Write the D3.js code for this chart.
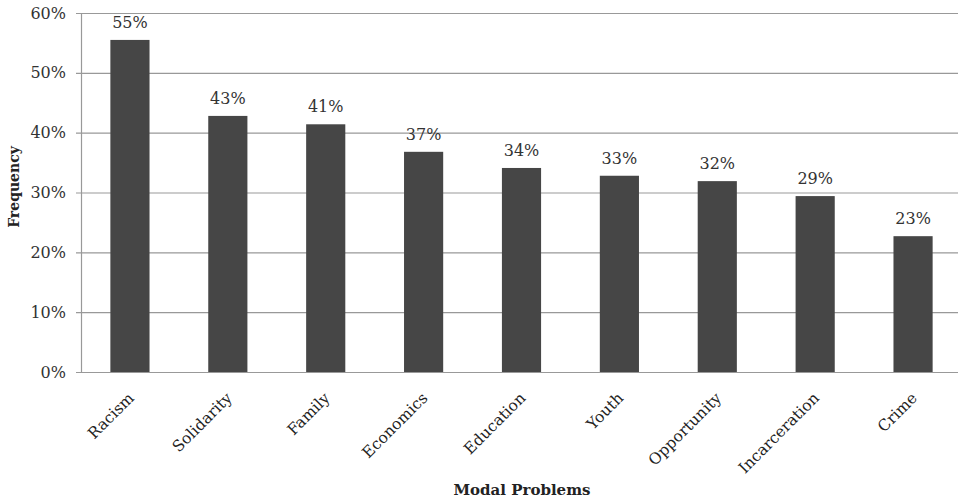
<!DOCTYPE html>
<meta charset="utf-8">
<style>
body { margin: 0; background: #fff; }
svg { font-family: "DejaVu Serif", "Liberation Serif", serif; }
</style>
<svg width="958" height="502"></svg>
<script src="https://cdn.jsdelivr.net/npm/d3@7"></script>
<script>

var categories = ["Racism", "Solidarity", "Family", "Economics", "Education", "Youth", "Opportunity", "Incarceration", "Crime"];
var values = [55.5, 42.8, 41.4, 36.8, 34.1, 32.8, 31.9, 29.4, 22.7];
var labels = ["55%", "43%", "41%", "37%", "34%", "33%", "32%", "29%", "23%"];
var yTicks = [0, 10, 20, 30, 40, 50, 60];

var svg = d3.select("svg"),
    margin = {top: 13, right: 0, bottom: 130, left: 81},
    width = +svg.attr("width") - margin.left - margin.right,
    height = +svg.attr("height") - margin.top - margin.bottom;

var g = svg.append("g").attr("transform", "translate(" + margin.left + "," + margin.top + ")");

var x = d3.scaleBand().domain(categories).range([0, width + 4]).paddingInner(0.6).paddingOuter(0.3);
var y = d3.scaleLinear().domain([0, 60]).range([height, 0]);

// gridlines
g.selectAll("line.grid")
  .data(yTicks)
  .enter().append("line")
    .attr("class", "grid")
    .attr("x1", -5)
    .attr("x2", width)
    .attr("y1", function(d) { return y(d) + 0.5; })
    .attr("y2", function(d) { return y(d) + 0.5; })
    .attr("stroke", "#999")
    .attr("stroke-width", 1.2);

g.append("line")
    .attr("x1", 0.5).attr("x2", 0.5)
    .attr("y1", 0).attr("y2", height)
    .attr("stroke", "#999")
    .attr("stroke-width", 1.2);

g.selectAll("text.ytick")
  .data(yTicks)
  .enter().append("text")
    .attr("class", "ytick")
    .attr("x", -15)
    .attr("y", function(d) { return y(d); })
    .attr("dy", "0.35em")
    .attr("text-anchor", "end")
    .attr("font-size", 16)
    .attr("fill", "#333")
    .text(function(d) { return d + "%"; });

g.selectAll("rect.bar")
  .data(values)
  .enter().append("rect")
    .attr("class", "bar")
    .attr("x", function(d, i) { return x(categories[i]); })
    .attr("width", x.bandwidth())
    .attr("y", function(d) { return y(d); })
    .attr("height", function(d) { return height - y(d); })
    .attr("fill", "#464646");

g.selectAll("text.val")
  .data(values)
  .enter().append("text")
    .attr("class", "val")
    .attr("x", function(d, i) { return x(categories[i]) + x.bandwidth() / 2; })
    .attr("y", function(d) { return y(d) - 12; })
    .attr("text-anchor", "middle")
    .attr("font-size", 16)
    .attr("fill", "#333")
    .text(function(d, i) { return labels[i]; });

g.selectAll("text.cat")
  .data(categories)
  .enter().append("text")
    .attr("class", "cat")
    .attr("text-anchor", "end")
    .attr("font-size", 15.5)
    .attr("fill", "#222")
    .attr("transform", function(d) {
      return "translate(" + (x(d) + x.bandwidth() / 2 + 5) + "," + (height + 27) + ") rotate(-45)";
    })
    .text(function(d) { return d; });

svg.append("text")
    .attr("x", 522)
    .attr("y", 495)
    .attr("text-anchor", "middle")
    .attr("font-size", 15)
    .attr("font-weight", "bold")
    .attr("fill", "#222")
    .text("Modal Problems");

svg.append("text")
    .attr("transform", "translate(19,187) rotate(-90)")
    .attr("text-anchor", "middle")
    .attr("font-size", 14)
    .attr("font-weight", "bold")
    .attr("fill", "#222")
    .text("Frequency");

</script>
